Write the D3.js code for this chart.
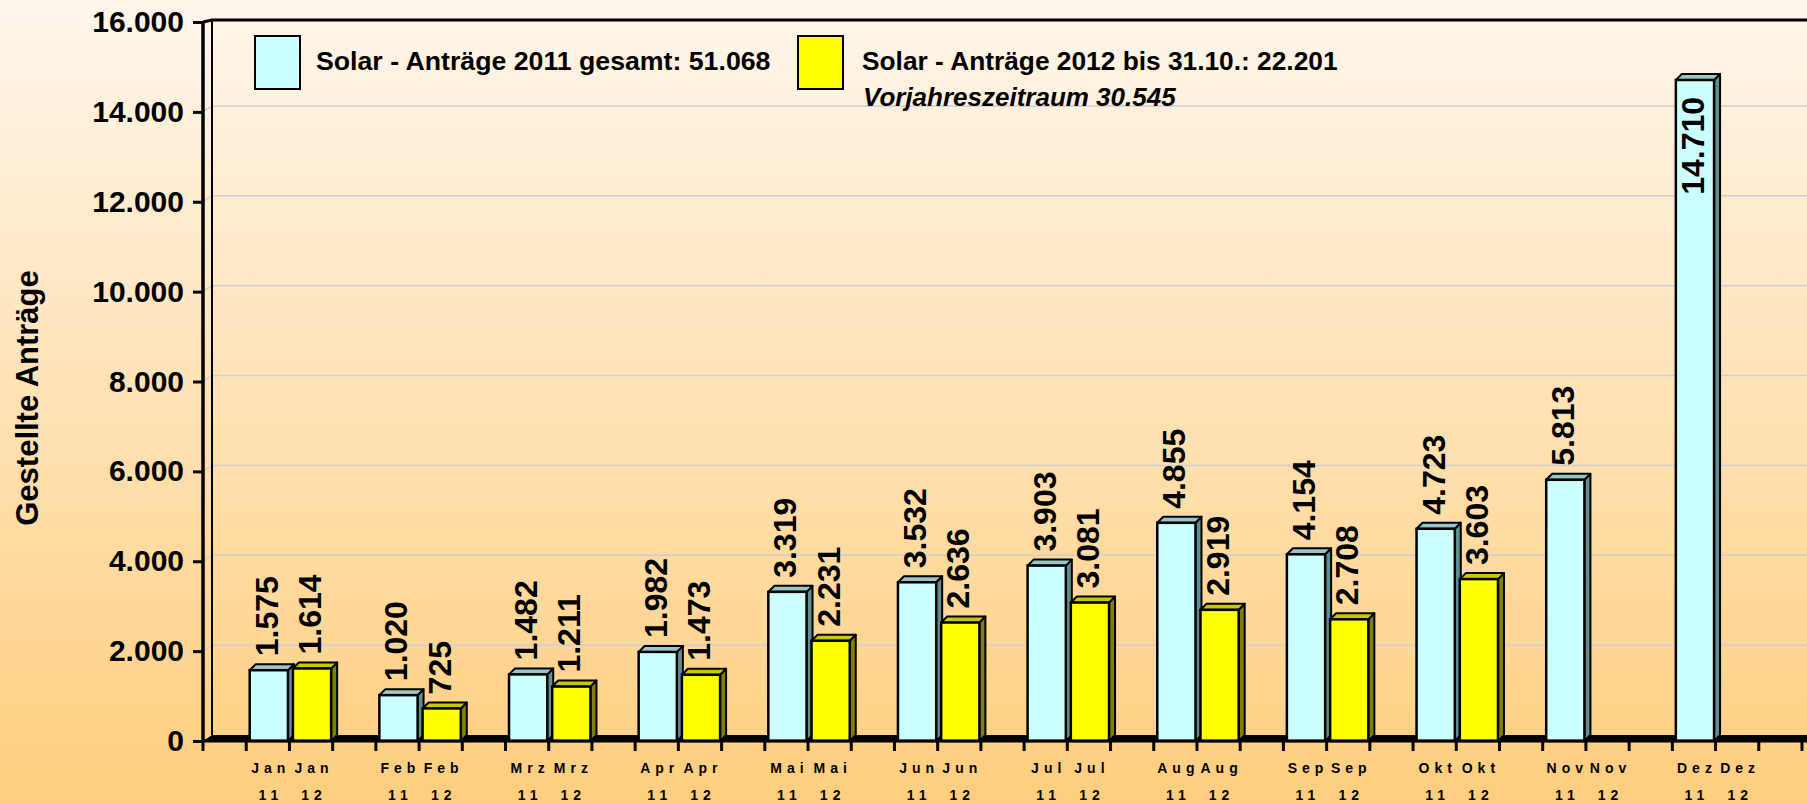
<!DOCTYPE html>
<html>
<head>
<meta charset="utf-8">
<script src="https://cdn.jsdelivr.net/npm/d3@7"></script>
<style>
  body { margin: 0; overflow: hidden; }
  text { font-family: "Liberation Sans", Arial, sans-serif; font-weight: bold; fill: #000; }
</style>
</head>
<body>
<div id="chart"></div>
<script>
const W = 1807, H = 804;

// data
const months = ["Jan", "Feb", "Mrz", "Apr", "Mai", "Jun", "Jul", "Aug", "Sep", "Okt", "Nov", "Dez"];
const years = ["11", "12"];
const values2011 = [1575, 1020, 1482, 1982, 3319, 3532, 3903, 4855, 4154, 4723, 5813, 14710];
const values2012 = [1614, 725, 1211, 1473, 2231, 2636, 3081, 2919, 2708, 3603];
const yTicks = [0, 2000, 4000, 6000, 8000, 10000, 12000, 14000, 16000];
const legend2011 = "Solar - Anträge 2011 gesamt: 51.068";
const legend2012 = "Solar - Anträge 2012 bis 31.10.: 22.201";
const legend2012b = "Vorjahreszeitraum 30.545";
const yTitle = "Gestellte Anträge";

const de = d3.formatLocale({ decimal: ",", thousands: ".", grouping: [3], currency: ["", "€"] });
const fmt = de.format(",d");

const svg = d3.select("#chart").append("svg")
    .attr("width", W)
    .attr("height", H);

// background gradient
const grad = svg.append("defs").append("linearGradient")
    .attr("id", "bg").attr("x1", 0).attr("y1", 0).attr("x2", 0).attr("y2", 1);
grad.append("stop").attr("offset", "0%").attr("stop-color", "#fff6ec");
grad.append("stop").attr("offset", "100%").attr("stop-color", "#ffce7e");
svg.append("rect").attr("width", W).attr("height", H).attr("fill", "url(#bg)");

// slots: gap, month 11, month 12 ... and a trailing gap
const slots = [];
months.forEach(m => { slots.push("gap-" + m, m + "-11", m + "-12"); });
slots.push("gap-end");

const x = d3.scaleBand().domain(slots).range([203, 1802]);
const y = d3.scaleLinear().domain([0, 16000]).range([741, 22]);

const depthX = 9, depthY = 6;   // wall depth
const barDX = 6, barDY = 6;     // bar depth
const left = x.range()[0];

// gridlines on back wall
svg.append("g").selectAll("path")
    .data(yTicks.filter(t => t > 0 && t < 16000))
    .join("path")
    .attr("d", t => `M${left},${y(t)}L${left + depthX},${y(t) - depthY}H${W}`)
    .attr("fill", "none")
    .attr("stroke", "#cdcdd6")
    .attr("stroke-width", 1.5);

// floor
svg.append("path")
    .attr("d", `M${left},${y(0)}L${left + depthX},${y(0) - depthY}H${W}V${y(0)}Z`)
    .attr("fill", "#000");

// frame: back wall left edge and top
svg.append("line")
    .attr("x1", left + depthX).attr("x2", left + depthX)
    .attr("y1", y(16000) - 2).attr("y2", y(0) - depthY)
    .attr("stroke", "#000").attr("stroke-width", 2);
svg.append("path")
    .attr("d", `M${left},${y(16000)}L${left + depthX},${y(16000) - 2}H${W}`)
    .attr("fill", "none").attr("stroke", "#000").attr("stroke-width", 3);

// bars
const bars = [];
months.forEach((m, i) => {
    if (values2011[i] != null) bars.push({ slot: m + "-11", v: values2011[i], s: 0 });
    if (values2012[i] != null) bars.push({ slot: m + "-12", v: values2012[i], s: 1 });
});
const colors = [
    { front: "#ccffff", top: "#99c6c6", side: "#5f8f8f" },
    { front: "#ffff00", top: "#c8c800", side: "#808000" }
];

const barG = svg.append("g").selectAll("g")
    .data(bars)
    .join("g");

barG.each(function(d) {
    const g = d3.select(this);
    const x0 = x(d.slot) + 3.5;
    const w = x.bandwidth() - 5;
    const yt = y(d.v), yb = y(0);
    const c = colors[d.s];
    g.append("path")
        .attr("d", `M${x0 + w},${yt}L${x0 + w + barDX},${yt - barDY}V${yb - barDY}L${x0 + w},${yb}Z`)
        .attr("fill", c.side).attr("stroke", "#000").attr("stroke-width", 2).attr("stroke-linejoin", "round");
    g.append("path")
        .attr("d", `M${x0},${yt}L${x0 + barDX},${yt - barDY}H${x0 + w + barDX}L${x0 + w},${yt}Z`)
        .attr("fill", c.top).attr("stroke", "#000").attr("stroke-width", 2).attr("stroke-linejoin", "round");
    g.append("rect")
        .attr("x", x0).attr("y", yt)
        .attr("width", w).attr("height", yb - yt)
        .attr("fill", c.front).attr("stroke", "#000").attr("stroke-width", 2.5);
});

// value labels
barG.each(function(d) {
    const g = d3.select(this);
    const cx = x(d.slot) + 3.5 + (x.bandwidth() - 5) / 2;
    const yt = y(d.v);
    const t = g.append("text")
        .style("font-size", "32px")
        .attr("text-anchor", "start")
        .attr("transform", `translate(${cx + 9},${yt - barDY - 8}) rotate(-90)`)
        .text(fmt(d.v));
    const len = t.node().getComputedTextLength();
    if (yt - barDY - 8 - len < y(16000)) {
        // does not fit above the bar: put it inside
        t.attr("text-anchor", "end")
         .attr("transform", `translate(${cx + 9},${yt + 17}) rotate(-90)`);
    }
});

// y axis
svg.append("line")
    .attr("x1", left).attr("x2", left)
    .attr("y1", y(16000)).attr("y2", y(0))
    .attr("stroke", "#000").attr("stroke-width", 3.5);

const yAxis = svg.append("g")
    .attr("transform", `translate(${left},0)`)
    .call(d3.axisLeft(y).tickValues(yTicks).tickFormat(fmt).tickSize(10).tickPadding(9));
yAxis.select(".domain").remove();
yAxis.selectAll(".tick line").attr("stroke", "#000").attr("stroke-width", 3);
yAxis.selectAll(".tick text")
    .style("font-size", "30px")
    .style("font-weight", "bold")
    .style("font-family", "'Liberation Sans', Arial, sans-serif")
    .attr("fill", "#000");

svg.append("text")
    .attr("transform", `translate(38,398) rotate(-90)`)
    .attr("text-anchor", "middle")
    .style("font-size", "31px")
    .text(yTitle);

// x axis ticks at slot borders
const xEdges = slots.map(s => x(s)).concat([x.range()[1]]);
svg.append("g").selectAll("line")
    .data(xEdges)
    .join("line")
    .attr("x1", d => d).attr("x2", d => d)
    .attr("y1", y(0)).attr("y2", y(0) + 10)
    .attr("stroke", "#000").attr("stroke-width", 3);
svg.append("line")
    .attr("x1", left).attr("x2", W)
    .attr("y1", y(0)).attr("y2", y(0))
    .attr("stroke", "#000").attr("stroke-width", 3);

// x labels
const xLabels = [];
months.forEach(m => years.forEach(yr => xLabels.push({ slot: m + "-" + yr, m: m, yr: yr })));
const xl = svg.append("g").selectAll("g")
    .data(xLabels)
    .join("g")
    .attr("transform", d => `translate(${x(d.slot) + x.bandwidth() / 2 + 3},0)`);
xl.append("text")
    .attr("y", 773)
    .attr("text-anchor", "middle")
    .style("font-size", "14px")
    .style("letter-spacing", "5px")
    .text(d => d.m);
xl.append("text")
    .attr("y", 800)
    .attr("text-anchor", "middle")
    .style("font-size", "14px")
    .style("letter-spacing", "5px")
    .text(d => d.yr);

// legend
const lg = svg.append("g");
lg.append("rect")
    .attr("x", 255).attr("y", 36).attr("width", 45).attr("height", 53)
    .attr("fill", colors[0].front).attr("stroke", "#000").attr("stroke-width", 2);
lg.append("text")
    .attr("x", 316).attr("y", 70)
    .style("font-size", "26.7px")
    .text(legend2011);
lg.append("rect")
    .attr("x", 798).attr("y", 36).attr("width", 45).attr("height", 53)
    .attr("fill", colors[1].front).attr("stroke", "#000").attr("stroke-width", 2);
lg.append("text")
    .attr("x", 862).attr("y", 70)
    .style("font-size", "26.3px")
    .text(legend2012);
lg.append("text")
    .attr("x", 863).attr("y", 106)
    .style("font-size", "26px")
    .style("font-style", "italic")
    .text(legend2012b);
</script>
</body>
</html>
